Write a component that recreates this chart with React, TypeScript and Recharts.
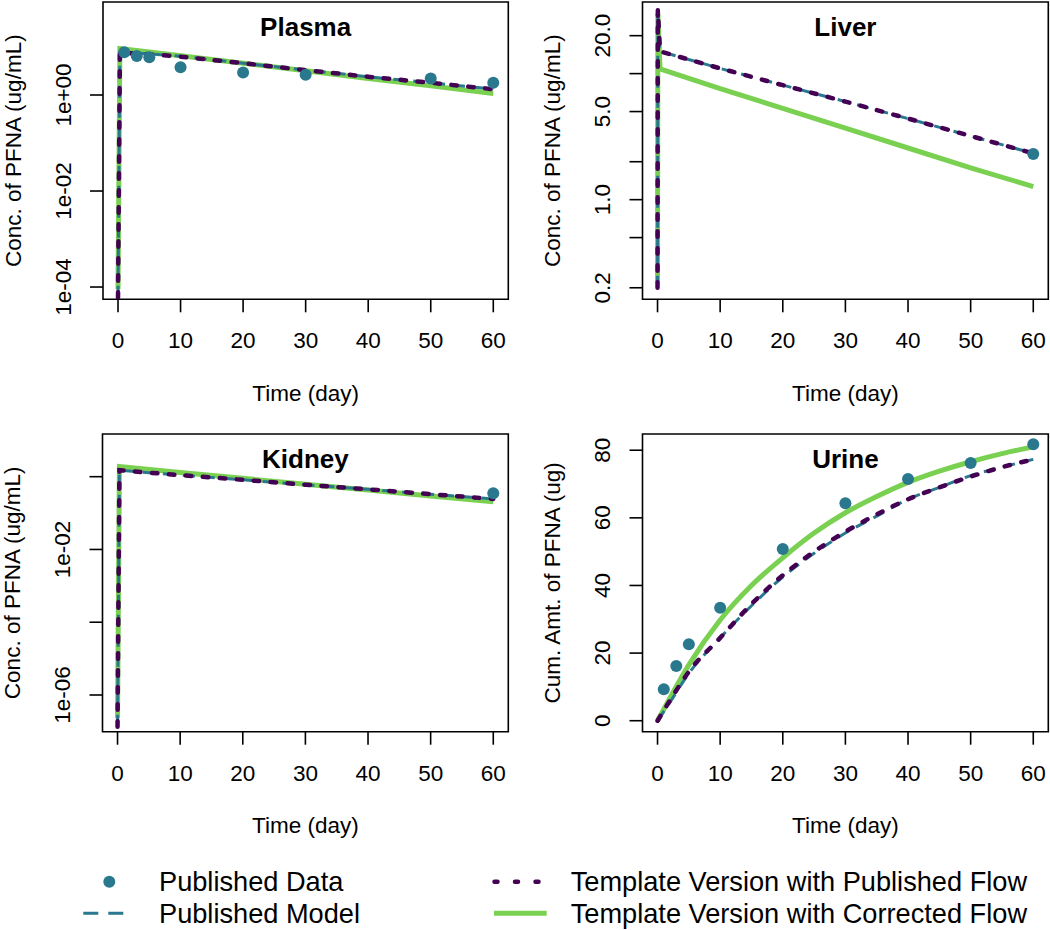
import React from "react";
import { ComposedChart, Line, Scatter, XAxis, YAxis, ReferenceArea, Legend } from "recharts";

const FONT = '"Liberation Sans", Arial, Helvetica, sans-serif';
const TEAL = "#2A788E";
const PURPLE = "#440154";
const GREEN = "#7AD151";

// shared x axis (days)
const DAY_TICKS = [0, 10, 20, 30, 40, 50, 60];
const DAY_DOMAIN: [number, number] = [-2.4, 62.4];

const SERIES = [
  "Published Data",
  "Published Model",
  "Template Version with Published Flow",
  "Template Version with Corrected Flow",
];

// Plasma
const plasmaObsDay = [1, 3, 5, 10, 20, 30, 50, 60];
const plasmaObs = [7.8, 6.5, 6.1, 3.8, 2.95, 2.65, 2.2, 1.8];
const plasmaSimDay = [0, 0.3, 5, 10, 20, 30, 40, 50, 60];
const plasmaPubModel = [6e-5, 7.7, 7.2, 6.4, 4.6, 3.3, 2.4, 1.8, 1.33];
const plasmaPubFlow = [6e-5, 7.6, 7.1, 6.3, 4.6, 3.3, 2.4, 1.8, 1.32];
const plasmaCorrFlow = [9e-5, 9.3, 7.9, 6.6, 4.6, 3.2, 2.2, 1.55, 1.08];
const plasmaTicks = [1e-4, 1e-2, 1];
const plasmaTickLabels = ["1e-04", "1e-02", "1e+00"];

// Liver
const liverObsDay = [60];
const liverObs = [2.3];
const liverSimDay = [0, 0.05, 0.4, 10, 20, 30, 40, 50, 60];
const liverPubModel = [0.2, 31, 15, 11.0, 8.1, 6.0, 4.4, 3.2, 2.33];
const liverPubFlow = [0.2, 32, 15, 11.0, 8.1, 6.0, 4.4, 3.2, 2.33];
const liverCorrFlow = [0.22, 30, 10.9, 7.6, 5.3, 3.7, 2.57, 1.79, 1.27];
const liverTicks = [0.2, 0.5, 1, 2, 5, 10, 20];
const liverTickLabels = ["0.2", "", "1.0", "", "5.0", "", "20.0"];

// Kidney
const kidneyObsDay = [60];
const kidneyObs = [0.35];
const kidneySimDay = [0, 0.3, 10, 20, 30, 40, 50, 60];
const kidneyPubModel = [1.35e-7, 1.5, 1.1, 0.82, 0.6, 0.45, 0.33, 0.245];
const kidneyPubFlow = [1.35e-7, 1.5, 1.1, 0.82, 0.6, 0.45, 0.33, 0.245];
const kidneyCorrFlow = [2.3e-7, 1.9, 1.31, 0.9, 0.62, 0.43, 0.295, 0.205];
const kidneyTicks = [1e-6, 1e-4, 1e-2, 1];
const kidneyTickLabels = ["1e-06", "", "1e-02", ""];

// Urine
const urineObsDay = [1, 3, 5, 10, 20, 30, 40, 50, 60];
const urineObs = [9.3, 16.2, 22.6, 33.4, 50.8, 64.3, 71.5, 76.2, 81.8];
const urineSimDay = [0, 2, 5, 10, 15, 20, 25, 30, 35, 40, 45, 50, 55, 60];
const urinePubModel = [0, 5.5, 14, 24.5, 34, 42.5, 49.5, 55.5, 60.5, 65.5, 69, 72.5, 75, 77.3];
const urinePubFlow = [0, 6, 14.5, 24.5, 34.5, 43, 50, 55.9, 61, 65.5, 69, 72.2, 75, 77.3];
const urineCorrFlow = [0, 6.8, 16.5, 29.8, 40, 48.2, 55.5, 61.5, 66.3, 70.5, 73.8, 76.6, 79, 81];
const urineTicks = [0, 20, 40, 60, 80];
const urineTickLabels = ["0", "20", "40", "60", "80"];

type Row = { day: number; value: number };
const rows = (days: number[], values: number[]): Row[] =>
  days.map((day, i) => ({ day, value: values[i] }));

const W = 525;
const H = 420;
const X_AXIS_H = 106;
const AXIS_FS = 22.5;

type PanelProps = {
  title: string;
  yLabel: string;
  log: boolean;
  yDomain: [number, number];
  yTicks: number[];
  yTickLabels: string[];
  obs: Row[];
  model: Row[];
  pubFlow: Row[];
  corrFlow: Row[];
  left: number;
  top: number;
  box: [number, number, number, number];
  legend?: boolean;
};

function makeYTick(ticks: number[], labels: string[]) {
  return (props: any) => {
    const { x, y, payload } = props;
    const i = ticks.findIndex((t) => Math.abs(t - payload.value) <= Math.abs(t) * 1e-6 + 1e-12);
    const text = i >= 0 ? labels[i] : "";
    if (!text) return <g />;
    return (
      <text x={x} y={y} transform={`rotate(-90 ${x} ${y})`} textAnchor="middle" fill="#000" fontSize={AXIS_FS} fontFamily={FONT}>
        {text}
      </text>
    );
  };
}

function LegendContent(props: any) {
  const names: string[] = (props.payload || []).map((e: any) => e.value);
  const has = (n: string) => names.includes(n);
  const textStyle = { fontSize: 27.2, fontFamily: FONT, fill: "#000" };
  return (
    <svg width={1050} height={70} style={{ display: "block" }}>
      {has(SERIES[0]) && <circle cx={109.3} cy={21.7} r={6} fill={TEAL} />}
      {has(SERIES[0]) && <text x={159} y={30.7} {...textStyle}>{SERIES[0]}</text>}
      {has(SERIES[1]) && (
        <line x1={83.3} y1={53.3} x2={123.3} y2={53.3} stroke={TEAL} strokeWidth={3} strokeDasharray="15 10" />
      )}
      {has(SERIES[1]) && <text x={159} y={63.3} {...textStyle}>{SERIES[1]}</text>}
      {has(SERIES[2]) && (
        <line x1={494.5} y1={21.7} x2={540} y2={21.7} stroke={PURPLE} strokeWidth={4.5} strokeDasharray="3 17.5" strokeLinecap="round" />
      )}
      {has(SERIES[2]) && <text x={570.7} y={30.7} {...textStyle}>{SERIES[2]}</text>}
      {has(SERIES[3]) && <line x1={494} y1={53.3} x2={546.7} y2={53.3} stroke={GREEN} strokeWidth={5} />}
      {has(SERIES[3]) && <text x={570.7} y={63.3} {...textStyle}>{SERIES[3]}</text>}
    </svg>
  );
}

function Panel(p: PanelProps) {
  const [bx0, by0, bx1, by1] = p.box;
  const margin = {
    top: by0 - p.top,
    right: p.left + W - bx1,
    bottom: p.top + H - by1 - X_AXIS_H,
    left: 0,
  };
  const yAxisWidth = bx0 - p.left;
  const curve = p.log ? "linear" : "monotone";
  const axisText = { fill: "#000", fontSize: AXIS_FS, fontFamily: FONT };
  return (
    <div style={{ position: "absolute", left: p.left, top: p.top }}>
      <ComposedChart width={W} height={H} margin={margin}>
        <XAxis
          dataKey="day"
          type="number"
          domain={DAY_DOMAIN}
          ticks={DAY_TICKS}
          interval={0}
          allowDataOverflow
          axisLine={false}
          tickLine={{ stroke: "#000", strokeWidth: 1.6 }}
          tickSize={13}
          tickMargin={20}
          tick={axisText}
          height={X_AXIS_H}
          label={(lp: any) => {
            const vb = lp.viewBox;
            return (
              <text x={vb.x + vb.width / 2} y={vb.y + 101.7} textAnchor="middle" {...axisText}>
                Time (day)
              </text>
            );
          }}
        />
        <YAxis
          type="number"
          scale={p.log ? "log" : "linear"}
          domain={p.yDomain}
          ticks={p.yTicks}
          interval={0}
          allowDataOverflow
          axisLine={false}
          tickLine={{ stroke: "#000", strokeWidth: 1.6 }}
          tickSize={13}
          tickMargin={19}
          width={yAxisWidth}
          tick={makeYTick(p.yTicks, p.yTickLabels)}
          label={(lp: any) => {
            const vb = lp.viewBox;
            const x = vb.x + vb.width - 82;
            const y = vb.y + vb.height / 2;
            return (
              <text x={x} y={y} transform={`rotate(-90 ${x} ${y})`} textAnchor="middle" {...axisText}>
                {p.yLabel}
              </text>
            );
          }}
        />
        <ReferenceArea
          x1={DAY_DOMAIN[0]}
          x2={DAY_DOMAIN[1]}
          y1={p.yDomain[0]}
          y2={p.yDomain[1]}
          fill="none"
          fillOpacity={0}
          stroke="#000"
          strokeWidth={1.6}
          label={(lp: any) => {
            const vb = lp.viewBox;
            return (
              <text x={vb.x + vb.width / 2} y={vb.y + 34} textAnchor="middle" fontWeight="bold" fontSize={26} fontFamily={FONT} fill="#000">
                {p.title}
              </text>
            );
          }}
        />
        <Line data={p.corrFlow} dataKey="value" name={SERIES[3]} type={curve} stroke={GREEN} strokeWidth={5} dot={false} activeDot={false} isAnimationActive={false} />
        <Line data={p.model} dataKey="value" name={SERIES[1]} type={curve} stroke={TEAL} strokeWidth={3} strokeDasharray="12 8" dot={false} activeDot={false} isAnimationActive={false} />
        <Line data={p.pubFlow} dataKey="value" name={SERIES[2]} type={curve} stroke={PURPLE} strokeWidth={4.5} strokeDasharray="5.5 11.5" strokeLinecap="round" dot={false} activeDot={false} isAnimationActive={false} />
        <Scatter
          data={p.obs}
          dataKey="value"
          name={SERIES[0]}
          fill={TEAL}
          isAnimationActive={false}
          shape={(sp: any) => <circle cx={sp.cx} cy={sp.cy} r={6} fill={TEAL} />}
        />
        {p.legend && (
          <Legend
            layout="vertical"
            align="center"
            verticalAlign="middle"
            wrapperStyle={{ left: -p.left, top: 860 - p.top, width: 1050, height: 70 }}
            content={LegendContent}
          />
        )}
      </ComposedChart>
    </div>
  );
}

export default function App() {
  return (
    <div style={{ position: "absolute", left: 0, top: 0, width: 1050, height: 930, background: "#fff" }}>
      <Panel
        title="Plasma"
        yLabel="Conc. of PFNA (ug/mL)"
        log
        yDomain={[5.55e-5, 86.6]}
        yTicks={plasmaTicks}
        yTickLabels={plasmaTickLabels}
        obs={rows(plasmaObsDay, plasmaObs)}
        model={rows(plasmaSimDay, plasmaPubModel)}
        pubFlow={rows(plasmaSimDay, plasmaPubFlow)}
        corrFlow={rows(plasmaSimDay, plasmaCorrFlow)}
        left={0}
        top={0}
        box={[103, 2, 508.3, 299.3]}
      />
      <Panel
        title="Liver"
        yLabel="Conc. of PFNA (ug/mL)"
        log
        yDomain={[0.162, 37.0]}
        yTicks={liverTicks}
        yTickLabels={liverTickLabels}
        obs={rows(liverObsDay, liverObs)}
        model={rows(liverSimDay, liverPubModel)}
        pubFlow={rows(liverSimDay, liverPubFlow)}
        corrFlow={rows(liverSimDay, liverCorrFlow)}
        left={525}
        top={0}
        box={[642.5, 2, 1048.3, 299.3]}
      />
      <Panel
        title="Kidney"
        yLabel="Conc. of PFNA (ug/mL)"
        log
        yDomain={[9.8e-8, 14.9]}
        yTicks={kidneyTicks}
        yTickLabels={kidneyTickLabels}
        obs={rows(kidneyObsDay, kidneyObs)}
        model={rows(kidneySimDay, kidneyPubModel)}
        pubFlow={rows(kidneySimDay, kidneyPubFlow)}
        corrFlow={rows(kidneySimDay, kidneyCorrFlow)}
        left={0}
        top={420}
        box={[102.5, 434, 508.3, 731.7]}
        legend
      />
      <Panel
        title="Urine"
        yLabel="Cum. Amt. of PFNA (ug)"
        log={false}
        yDomain={[-3.25, 84.8]}
        yTicks={urineTicks}
        yTickLabels={urineTickLabels}
        obs={rows(urineObsDay, urineObs)}
        model={rows(urineSimDay, urinePubModel)}
        pubFlow={rows(urineSimDay, urinePubFlow)}
        corrFlow={rows(urineSimDay, urineCorrFlow)}
        left={525}
        top={420}
        box={[642.5, 434, 1048.3, 731.7]}
      />
    </div>
  );
}
